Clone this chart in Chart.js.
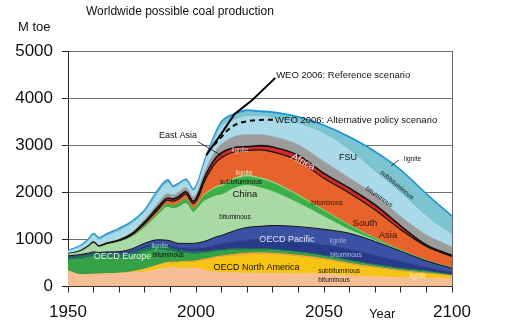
<!DOCTYPE html>
<html><head><meta charset="utf-8">
<script src="https://cdn.jsdelivr.net/npm/chart.js@4.4.1/dist/chart.umd.min.js"></script>
<style>html,body{margin:0;padding:0;background:#fff}#c{display:block}</style>
</head><body>
<canvas id="c" width="506" height="328"></canvas>
<script>
// ---- data (Mtoe) ----
const years = [1950,1955,1958,1960,1962,1965,1970,1975,1980,1985,1989,1991,1993,1996,1999,2001,2003,2005,2008,2010,2015,2020,2025,2030,2040,2050,2060,2070,2080,2090,2100];
const naBituminous    = [330,250,255,260,262,270,280,295,315,360,400,400,395,390,385,380,350,320,305,300,290,285,280,278,272,265,228,209,187,173,159];
const naSubbituminous = [0,0,0,0,0,0,0,15,50,80,95,100,105,120,130,150,200,250,300,320,360,390,400,395,360,298,235,177,128,92,55];
const naLignite       = [0,0,0,0,0,0,0,5,10,15,20,20,22,24,25,25,28,30,30,30,33,35,35,35,33,32,30,27,25,23,15];
const euBituminous    = [230,330,350,370,350,340,320,320,350,320,240,210,180,160,145,135,120,110,105,100,90,65,62,60,50,45,45,35,28,28,12];
const euLignite       = [50,60,65,70,72,78,85,85,85,85,85,75,65,60,55,50,45,40,38,35,32,30,29,28,26,25,25,23,18,13,8];
const pacBituminous   = [16,16,15,14,15,18,22,32,44,52,56,58,60,64,70,76,84,96,112,120,152,180,188,200,212,220,226,194,146,86,55];
const pacLignite      = [24,24,23,21,23,27,33,48,66,78,84,87,90,96,105,114,126,144,168,180,228,270,282,300,318,330,340,290,218,130,82];
const chBituminous    = [30,60,130,180,110,150,205,250,330,520,700,700,760,850,660,750,850,870,870,860,900,890,820,717,495,267,71,20,6,3,2];
const chSubbituminous = [0,0,0,0,0,0,0,15,35,45,70,70,80,95,85,95,120,140,170,180,185,185,185,182,152,122,90,40,15,8,6];
const chLignite       = [0,0,0,0,0,0,0,0,0,0,0,0,0,0,0,10,20,25,30,30,30,30,30,30,25,20,15,10,5,3,2];
const southAsia       = [5,8,10,12,14,16,20,30,50,70,85,90,95,100,100,130,250,380,520,580,560,530,590,635,727,673,674,599,430,291,244];
const eastAsia        = [10,12,14,15,15,18,20,25,37,50,45,45,48,50,50,60,75,90,100,105,90,80,90,100,110,106,106,106,78,30,20];
const africa          = [5,8,10,10,12,13,15,30,55,80,90,85,90,90,90,95,110,130,160,180,230,250,230,220,224,247,212,213,198,213,180];
const fsuBituminous   = [45,75,95,120,110,130,170,175,140,200,210,140,140,125,115,130,160,200,282,370,350,390,390,390,446,590,593,487,497,389,253];
const fsuSubbituminous= [10,15,20,30,30,32,40,38,35,50,50,30,30,28,27,30,40,50,80,80,100,100,80,100,120,150,250,400,461,448,367];
const fsuLignite      = [5,12,13,18,17,18,20,17,18,25,30,20,20,18,18,20,22,25,30,30,30,30,30,30,30,30,30,30,30,30,30];

const refYears  = [2004,2010,2015,2022,2031];
const refValues = [2790,3250,3660,3960,4430];
const altYears  = [2007,2010,2013,2016,2020,2025,2030.5];
const altValues = [3000,3180,3350,3450,3510,3535,3540];

const yTicks = [0,1000,2000,3000,4000,5000];
const xLabelYears = [1950,2000,2050,2100];

// ---- styles ----
const layers = [
  {label:'OECD North America bituminous', data:naBituminous, color:'#F5BE95'},
  {label:'OECD North America subbituminous', data:naSubbituminous, color:'#F7C414'},
  {label:'OECD North America lignite', data:naLignite, color:'#F09A38'},
  {label:'OECD Europe bituminous', data:euBituminous, color:'#35A046'},
  {label:'OECD Europe lignite', data:euLignite, color:'#1F7A5A', border:'#165E40'},
  {label:'OECD Pacific bituminous', data:pacBituminous, color:'#283B8B'},
  {label:'OECD Pacific lignite', data:pacLignite, color:'#3A51A4', border:'#111', bw:1},
  {label:'China bituminous', data:chBituminous, color:'#A9D9A5'},
  {label:'China subbituminous', data:chSubbituminous, color:'#3DAF47'},
  {label:'China lignite', data:chLignite, color:'#8ED27B'},
  {label:'South Asia', data:southAsia, color:'#E8632B', border:'#111', bw:1.2},
  {label:'East Asia', data:eastAsia, color:'#D62A2A', border:'#111', bw:1.6},
  {label:'Africa', data:africa, color:'#9C9C9C'},
  {label:'FSU bituminous', data:fsuBituminous, color:'#AAD9EA'},
  {label:'FSU subbituminous', data:fsuSubbituminous, color:'#7CC4CF'},
  {label:'FSU lignite', data:fsuLignite, color:'#2A9FD9', border:'#2196D6', bw:2}
];

const datasets = layers.map((L,i)=>({
  label:L.label,
  data: years.map((yr,k)=>({x:yr, y:L.data[k]})),
  backgroundColor:L.color,
  borderColor:L.border||L.color,
  borderWidth:L.bw||0.8,
  fill: i===0 ? 'origin' : '-1',
  pointRadius:0,
  cubicInterpolationMode:'monotone',
  stack:'coal',
  order:0
}));
datasets.push({
  label:'WEO 2006: Reference scenario',
  data: refYears.map((yr,k)=>({x:yr,y:refValues[k]})),
  borderColor:'#000', borderWidth:2, fill:false, pointRadius:0, tension:0,
  stack:'ref', order:-1
});
datasets.push({
  label:'WEO 2006: Alternative policy scenario',
  data: altYears.map((yr,k)=>({x:yr,y:altValues[k]})),
  borderColor:'#000', borderWidth:2, borderDash:[5,4], fill:false, pointRadius:0,
  cubicInterpolationMode:'monotone', stack:'alt', order:-1
});

const FONT = '"Liberation Sans", Arial, Helvetica, sans-serif';
// annotation texts in data coordinates (year, Mtoe)
const notes = [
  {t:'WEO 2006: Reference scenario', x:2031.3, y:4480, s:9.5, a:'left'},
  {t:'WEO 2006: Alternative policy scenario', x:2030.9, y:3535, s:9.5, a:'left'},
  {t:'East Asia', x:2000.4, y:3195, s:9, a:'right'},
  {t:'FSU', x:2059.4, y:2749, s:9},
  {t:'lignite', x:2084.6, y:2696, s:6.5},
  {t:'subbituminous', x:2078.5, y:2155, s:6.5, r:40},
  {t:'bituminous', x:2071.5, y:1900, s:6.5, r:35},
  {t:'Africa', x:2041.8, y:2643, s:10, r:28, c:'#E6E6E6'},
  {t:'lignite', x:2017.2, y:2898, s:6.5, c:'#CFCFCF'},
  {t:'lignite', x:2018.75, y:2410, s:6.5, c:'#CDEFC4'},
  {t:'subbituminous', x:2017.6, y:2219, s:6.5},
  {t:'China', x:2019.1, y:1964, s:9.5},
  {t:'bituminous', x:2015.2, y:1476, s:6.5},
  {t:'bituminous', x:2051.2, y:1773, s:6.5, c:'#3A1606'},
  {t:'South', x:2066.0, y:1348, s:9.5, c:'#3A1606'},
  {t:'Asia', x:2075.0, y:1093, s:9.5, c:'#3A1606'},
  {t:'OECD Pacific', x:2035.5, y:987, s:9, c:'#E2E4F4'},
  {t:'lignite', x:2055.5, y:966, s:6.5, c:'#A4AEDC'},
  {t:'bituminous', x:2058.6, y:669, s:6.5, c:'#B4BCE6'},
  {t:'OECD North America', x:2023.6, y:393, s:9},
  {t:'subbituminous', x:2055.9, y:329, s:6.5},
  {t:'bituminous', x:2053.9, y:138, s:6.5},
  {t:'lignite', x:2086.7, y:223, s:6.5, c:'#F7E9CF'},
  {t:'OECD Europe', x:1971.3, y:626, s:9, c:'#EAF6EA'},
  {t:'lignite', x:1985.9, y:849, s:6.5, c:'#93D3CB'},
  {t:'bituminous', x:1989.1, y:669, s:6.5}
];
const pointers = [
  {x1:2000.6, y1:3079, x2:2010.2, y2:2771},
  {x1:2079.3, y1:2686, x2:2076.2, y2:2558}
];

const textPlugin = {
  id:'texts',
  afterDatasetsDraw(chart){
    const {ctx, scales:{x, y}} = chart;
    ctx.save();
    ctx.strokeStyle='#111'; ctx.lineWidth=0.8;
    pointers.forEach(p=>{
      ctx.beginPath();
      ctx.moveTo(x.getPixelForValue(p.x1), y.getPixelForValue(p.y1));
      ctx.lineTo(x.getPixelForValue(p.x2), y.getPixelForValue(p.y2));
      ctx.stroke();
    });
    notes.forEach(n=>{
      ctx.save();
      ctx.translate(x.getPixelForValue(n.x), y.getPixelForValue(n.y));
      if(n.r) ctx.rotate(n.r*Math.PI/180);
      ctx.font = n.s+'px '+FONT;
      ctx.fillStyle = n.c || '#111';
      ctx.textAlign = n.a || 'center';
      ctx.textBaseline = 'middle';
      ctx.fillText(n.t,0,0);
      ctx.restore();
    });
    // right frame line
    const ca = chart.chartArea;
    ctx.strokeStyle='#666'; ctx.lineWidth=1;
    ctx.beginPath(); ctx.moveTo(Math.round(ca.right)+0.5, ca.top); ctx.lineTo(Math.round(ca.right)+0.5, ca.bottom); ctx.stroke();
    ctx.restore();
  },
  afterDraw(chart){
    const {ctx, scales:{x}} = chart;
    ctx.save();
    ctx.fillStyle='#111'; ctx.textBaseline='middle'; ctx.textAlign='left';
    ctx.font='12px '+FONT; ctx.fillText('Worldwide possible coal production', 86, 11.5);
    ctx.font='13px '+FONT; ctx.fillText('M toe', 18, 27);
    ctx.textAlign='center';
    ctx.fillText('Year', x.getPixelForValue(2072.7), chart.chartArea.bottom + 28);
    ctx.restore();
  }
};

new Chart(document.getElementById('c'), {
  type:'line',
  data:{datasets},
  options:{
    responsive:false, animation:false, devicePixelRatio:1,
    layout:{padding:{top:51, right:54, left:0, bottom:0}},
    plugins:{legend:{display:false}, tooltip:{enabled:false}, title:{display:false}},
    scales:{
      x:{type:'linear', min:1950, max:2100,
        afterFit(s){s.height=41.5;},
        afterBuildTicks(s){s.ticks = []; for(let v=1950; v<=2100; v+=10) s.ticks.push({value:v});},
        ticks:{autoSkip:false, maxRotation:0, padding:10, color:'#111',
          font:{family:FONT, size:17},
          callback:(v)=> xLabelYears.includes(v) ? String(v) : ''},
        grid:{drawOnChartArea:false, drawTicks:true, tickLength:6, tickColor:'#222'},
        border:{display:true, color:'#222', width:1}
      },
      y:{stacked:true, min:0, max:5000,
        afterFit(s){s.width=68;},
        afterBuildTicks(s){s.ticks = yTicks.map(v=>({value:v}));},
        ticks:{padding:9, color:'#111', font:{family:FONT, size:17}, callback:(v)=>String(v)},
        grid:{color:'#6f6f6f', lineWidth:1, drawTicks:true, tickLength:6, tickColor:'#222'},
        border:{display:true, color:'#222', width:1}
      }
    }
  },
  plugins:[textPlugin]
});
</script>
</body></html>
